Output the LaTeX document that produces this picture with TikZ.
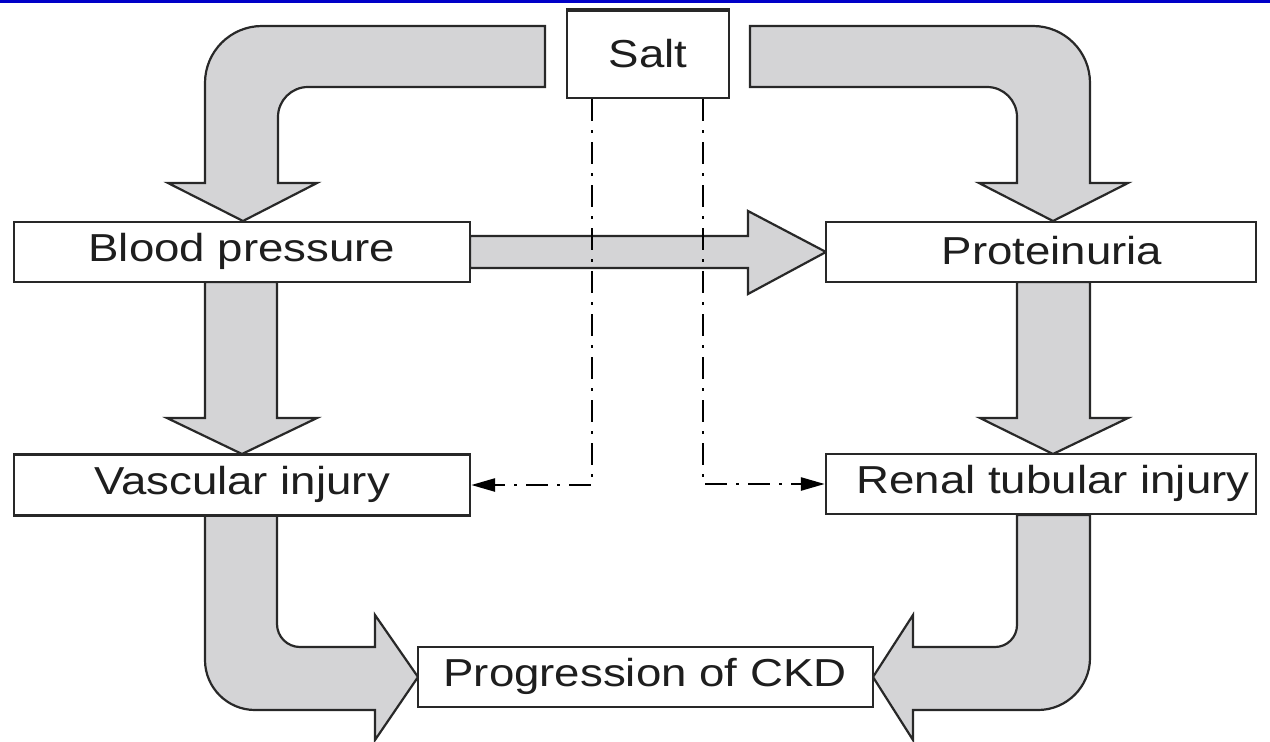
\documentclass[tikz,border=0pt]{standalone}
\usepackage{fontspec}
\setmainfont{Liberation Sans}
\usetikzlibrary{arrows.meta,backgrounds}
\definecolor{arrowgray}{RGB}{212,212,214}
\definecolor{edge}{RGB}{40,40,40}
\definecolor{txt}{RGB}{30,30,30}
\definecolor{topblue}{RGB}{0,0,200}
\newcommand\widetxt[1]{\scalebox{1.17}[1]{#1}}
\begin{document}
\begin{tikzpicture}[x=1pt,y=-1pt,
  box/.style={draw=edge,line width=2.4pt,fill=white,inner sep=0pt},
  lbl/.style={font=\fontsize{39}{44}\selectfont,text=txt,inner sep=0pt},
  fat/.style={draw=edge,line width=2.2pt,fill=arrowgray,line join=miter},
  dd/.style={draw=black,line width=2.6pt,dash pattern=on 22pt off 9pt on 3pt off 9pt}]
\useasboundingbox (0,0) rectangle (1270,742);

% boxes
\node[box,minimum width=456pt,minimum height=60pt] (bp) at (242,252) {};
\node[lbl] at (242,251) {\widetxt{Blood pressure}};
\node[box,minimum width=456pt,minimum height=61pt] (vasc) at (242,485) {};
\node[lbl] at (242,484) {\widetxt{Vascular injury}};
\node[box,minimum width=430pt,minimum height=60pt] (prot) at (1041,252) {};
\node[lbl] at (1052,251) {\widetxt{Proteinuria}};
\node[box,minimum width=430pt,minimum height=60pt] (renal) at (1041,484) {};
\node[lbl] at (1053,483) {\widetxt{Renal tubular injury}};
\node[box,minimum width=455pt,minimum height=60pt] (ckd) at (645.5,677) {};
\node[lbl] at (645,676) {\widetxt{Progression of CKD}};
\node[box,minimum width=162pt,minimum height=87pt] (salt) at (648,54.5) {};
\node[lbl] at (648,54) {\widetxt{Salt}};
\draw[edge,line width=4.5pt] (salt.north west) -- (salt.north east);

\begin{scope}[on background layer]
\fill[white] (0,0) rectangle (1270,742);
\draw[topblue,line width=3pt] (0,1.5) -- (1270,1.5);

% top-left bent arrow: salt -> blood pressure
\path[fat] (545,26) -- (262,26) .. controls (230.5,26) and (205,51.5) .. (205,83)
  -- (205,183) -- (168,183) -- (243,221) -- (317,183) -- (278,183)
  -- (278,117) .. controls (278,100.4) and (291.4,87) .. (308,87) -- (545,87) -- cycle;

% top-right bent arrow: salt -> proteinuria
\path[fat] (750,26) -- (1033,26) .. controls (1064.5,26) and (1090,51.5) .. (1090,83)
  -- (1090,183) -- (1128,183) -- (1053,221) -- (979,183) -- (1017,183)
  -- (1017,117) .. controls (1017,100.4) and (1003.6,87) .. (987,87) -- (750,87) -- cycle;

% blood pressure -> proteinuria
\path[fat] (470,236) -- (748,236) -- (748,211) -- (826,252) -- (748,294) -- (748,268) -- (470,268) -- cycle;

% blood pressure -> vascular injury
\path[fat] (205,282) -- (205,418) -- (167,418) -- (242,454) -- (317,418) -- (277,418) -- (277,282) -- cycle;

% proteinuria -> renal tubular injury
\path[fat] (1017,282) -- (1017,418) -- (980,418) -- (1053,454) -- (1128,418) -- (1090,418) -- (1090,282) -- cycle;

% vascular injury -> progression
\path[fat] (205,515) -- (205,660) .. controls (205,687.6) and (227.4,710) .. (255,710)
  -- (375,710) -- (375,740) -- (418,677) -- (375,615) -- (375,647) -- (300,647)
  .. controls (287.3,647) and (277,636.7) .. (277,624) -- (277,515) -- cycle;

% renal tubular injury -> progression
\path[fat] (1090,515) -- (1090,658) .. controls (1090,686.7) and (1066.7,710) .. (1038,710)
  -- (913,710) -- (913,740) -- (873,677) -- (913,615) -- (913,647) -- (995,647)
  .. controls (1007.2,647) and (1017,637.2) .. (1017,625) -- (1017,515) -- cycle;
\end{scope}

% dash-dot connectors
\draw[dd,-{Triangle[length=24pt,width=13pt]}] ([xshift=-56pt]salt.south) |- (vasc.east);
\draw[dd,-{Triangle[length=24pt,width=13pt]}] ([xshift=55pt]salt.south) |- (renal.west);
\end{tikzpicture}
\end{document}
